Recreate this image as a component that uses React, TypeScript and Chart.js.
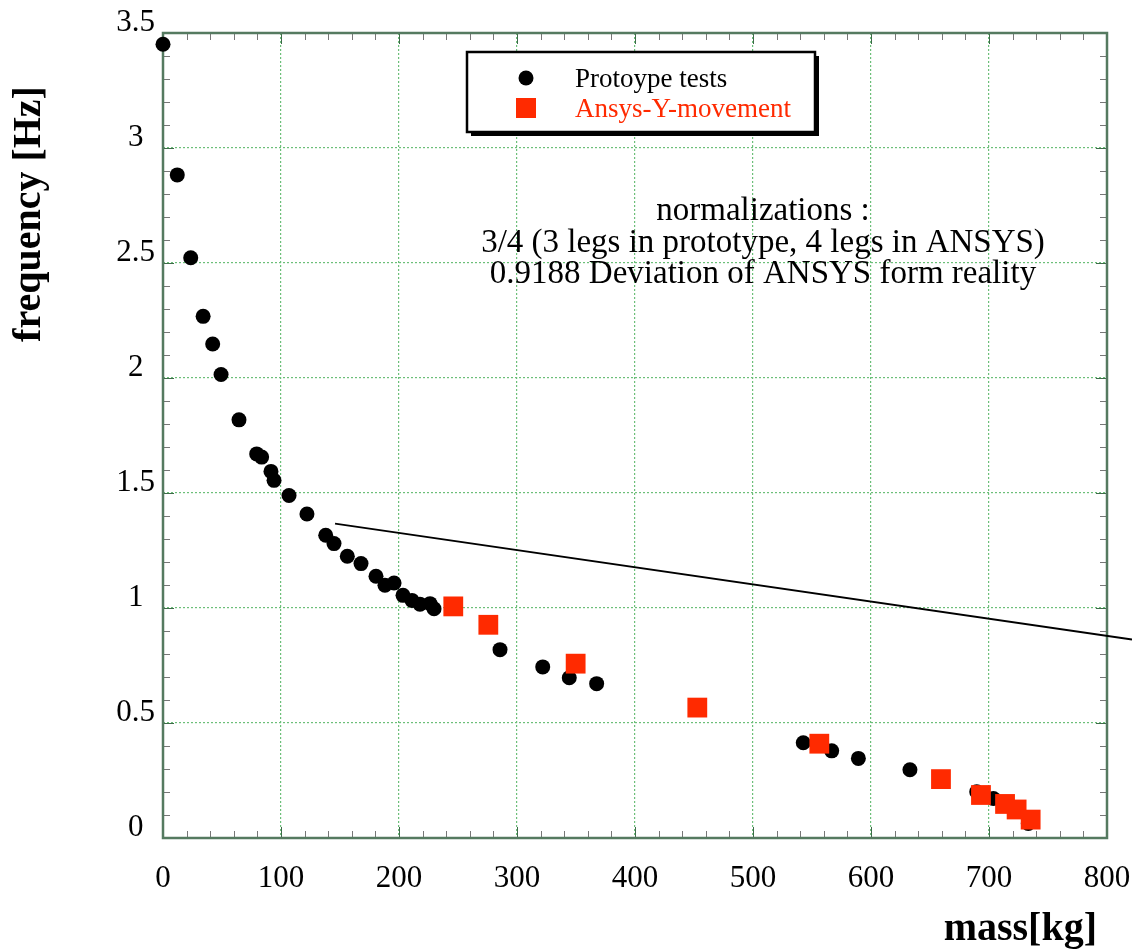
import React, { useEffect, useRef } from 'react';
import { Chart, registerables } from 'chart.js';
Chart.register(...registerables);

// ---- data ----
const protoMass = [0, 12.1, 23.5, 34, 42.1, 49.2, 64.4, 79.4, 83.6, 91.5, 94.1, 106.8, 122, 137.9, 144.9, 156.2, 167.8, 180.5, 188.1, 195.8, 203.4, 211, 217.8, 226.3, 229.7, 285.6, 321.8, 344.3, 367.5, 542.6, 566.7, 589.3, 633, 689.6, 703.7, 733.3];
const protoFreq = [3.451, 2.883, 2.523, 2.268, 2.148, 2.015, 1.818, 1.67, 1.656, 1.594, 1.555, 1.489, 1.409, 1.316, 1.28, 1.225, 1.193, 1.138, 1.099, 1.109, 1.055, 1.033, 1.016, 1.019, 0.997, 0.819, 0.744, 0.697, 0.671, 0.414, 0.379, 0.346, 0.297, 0.201, 0.172, 0.063];
const ansysMass = [246, 275.7, 349.7, 452.8, 556.2, 659.3, 693.2, 713.6, 723.4, 735.3];
const ansysFreq = [1.007, 0.927, 0.758, 0.567, 0.41, 0.256, 0.187, 0.148, 0.124, 0.08];
const lineMass = [145.8, 821.2];
const lineFreq = [1.367, 0.863];
const seriesNames = ['Protoype tests', 'Ansys-Y-movement'];
const noteLines = ['normalizations :', '3/4 (3 legs in prototype, 4 legs in ANSYS)', '0.9188 Deviation of ANSYS form reality'];
const xTitle = 'mass[kg]';
const yTitle = 'frequency [Hz]';
const xMin = 0, xMax = 800, xStep = 100, xMinor = 20;
const yMin = 0, yMax = 3.5, yStep = 0.5, yMinor = 0.1;

const SERIF = "'Liberation Serif', 'Times New Roman', serif";
const RED = '#ff2a00';
const GRID = '#6cbf79';

const decor = {
  id: 'decor',
  beforeDatasetsDraw(chart: any) {
    const { ctx, chartArea: a, scales } = chart;
    const xs = scales.x, ys = scales.y;
    ctx.save();
    ctx.lineWidth = 1;
    for (let v = xMin; v <= xMax + 1e-6; v += xMinor) {
      const px = Math.round(xs.getPixelForValue(v)) + 0.5;
      const major = Math.abs(v / xStep - Math.round(v / xStep)) < 1e-6;
      const len = major ? 11 : 7;
      ctx.strokeStyle = major ? '#3f6b4a' : '#777';
      ctx.beginPath();
      ctx.moveTo(px, a.bottom); ctx.lineTo(px, a.bottom - len);
      ctx.moveTo(px, a.top); ctx.lineTo(px, a.top + len);
      ctx.stroke();
    }
    for (let i = 0; i <= Math.round((yMax - yMin) / yMinor); i++) {
      const v = yMin + i * yMinor;
      const py = Math.round(ys.getPixelForValue(v)) + 0.5;
      const major = i % 5 === 0;
      const len = major ? 11 : 7;
      ctx.strokeStyle = major ? '#3f6b4a' : '#777';
      ctx.beginPath();
      ctx.moveTo(a.left, py); ctx.lineTo(a.left + len, py);
      ctx.moveTo(a.right, py); ctx.lineTo(a.right - len, py);
      ctx.stroke();
    }
    ctx.strokeStyle = '#557a60';
    ctx.lineWidth = 2.5;
    ctx.strokeRect(a.left, a.top, a.right - a.left, a.bottom - a.top);
    ctx.restore();
  },
  afterDraw(chart: any) {
    const { ctx } = chart;
    ctx.save();
    const bx = 467, by = 52, bw = 348, bh = 80;
    ctx.fillStyle = '#000';
    ctx.fillRect(bx + 4, by + 4, bw, bh);
    ctx.fillStyle = '#fff';
    ctx.fillRect(bx, by, bw, bh);
    ctx.strokeStyle = '#000';
    ctx.lineWidth = 2.5;
    ctx.strokeRect(bx, by, bw, bh);
    ctx.fillStyle = '#000';
    ctx.beginPath();
    ctx.arc(526, 78, 7.5, 0, Math.PI * 2);
    ctx.fill();
    ctx.fillStyle = RED;
    ctx.fillRect(516, 98, 20, 20);
    ctx.font = `27px ${SERIF}`;
    ctx.textAlign = 'left';
    ctx.textBaseline = 'alphabetic';
    ctx.fillStyle = '#000';
    ctx.fillText(seriesNames[0], 575, 87);
    ctx.fillStyle = RED;
    ctx.fillText(seriesNames[1], 575, 117);
    ctx.fillStyle = '#000';
    ctx.font = `33px ${SERIF}`;
    ctx.textAlign = 'center';
    const base = [220, 252, 283];
    noteLines.forEach((t, i) => ctx.fillText(t, 763, base[i]));
    ctx.font = `bold 40px ${SERIF}`;
    ctx.textAlign = 'right';
    ctx.fillText(xTitle, 1097, 940);
    ctx.translate(40, 214);
    ctx.rotate(-Math.PI / 2);
    ctx.textAlign = 'center';
    ctx.fillText(yTitle, 0, 0);
    ctx.restore();
  },
};

export default function App() {
  const ref = useRef<HTMLCanvasElement>(null);
  useEffect(() => {
    if (!ref.current) return;
    const chart = new Chart(ref.current, {
      type: 'scatter',
      data: {
        datasets: [
          {
            label: seriesNames[1],
            data: ansysMass.map((m, i) => ({ x: m, y: ansysFreq[i] })),
            pointStyle: 'rect',
            pointRadius: 14,
            backgroundColor: RED,
            borderColor: RED,
            borderWidth: 0,
            order: 0,
            clip: false,
          } as any,
          {
            label: seriesNames[0],
            data: protoMass.map((m, i) => ({ x: m, y: protoFreq[i] })),
            pointStyle: 'circle',
            pointRadius: 7.5,
            backgroundColor: '#000',
            borderColor: '#000',
            borderWidth: 0,
            order: 1,
            clip: false,
          } as any,
          {
            type: 'line',
            label: 'trend',
            data: lineMass.map((m, i) => ({ x: m, y: lineFreq[i] })),
            borderColor: '#000',
            borderWidth: 1.8,
            pointRadius: 0,
            showLine: true,
            fill: false,
            order: 2,
            clip: false,
          } as any,
        ],
      },
      options: {
        responsive: false,
        animation: false,
        devicePixelRatio: 1,
        layout: { padding: { left: 0, top: 33, right: 25, bottom: 0 } },
        plugins: { legend: { display: false }, tooltip: { enabled: false } },
        scales: {
          x: {
            type: 'linear',
            min: xMin,
            max: xMax,
            afterFit: (s: any) => { s.height = 113; s.paddingLeft = 0; s.paddingRight = 0; },
            ticks: {
              stepSize: xStep,
              color: '#000',
              font: { family: SERIF, size: 31 },
              padding: 22,
              maxRotation: 0,
              callback: (v: any) => String(v),
            },
            grid: { color: GRID, lineWidth: 1.2, drawTicks: false },
            border: { display: false, dash: [2, 2] },
          },
          y: {
            type: 'linear',
            min: yMin,
            max: yMax,
            afterFit: (s: any) => { s.width = 163; s.paddingTop = 0; s.paddingBottom = 0; },
            ticks: {
              stepSize: yStep,
              color: '#000',
              font: { family: SERIF, size: 31 },
              padding: 8,
              crossAlign: 'center',
              labelOffset: -10,
              callback: (v: any) => String(Math.round(v * 10) / 10),
            },
            grid: { color: GRID, lineWidth: 1.2, drawTicks: false },
            border: { display: false, dash: [2, 2] },
          },
        },
      } as any,
      plugins: [decor],
    });
    return () => chart.destroy();
  }, []);
  return (
    <div style={{ position: 'fixed', left: 0, top: 0, width: 1132, height: 951, background: '#fff' }}>
      <canvas ref={ref} width={1132} height={951} style={{ width: 1132, height: 951, display: 'block' }} />
    </div>
  );
}
